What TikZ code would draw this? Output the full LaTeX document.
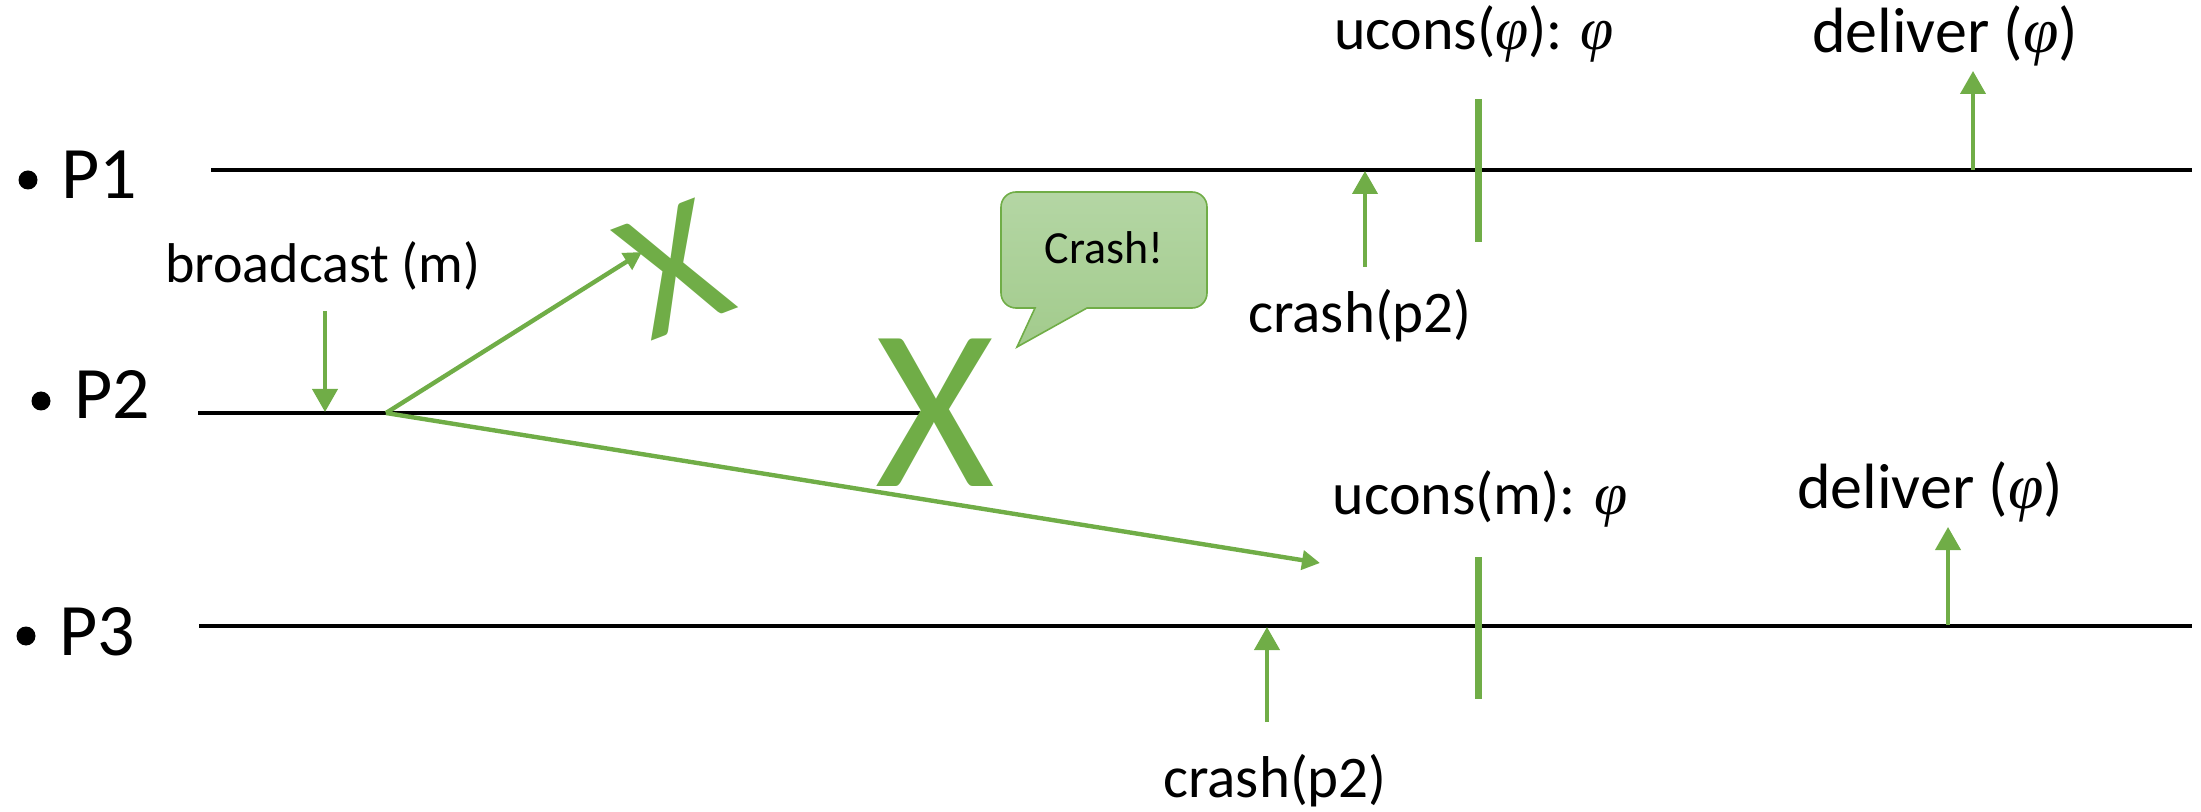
\documentclass[tikz,border=0pt]{standalone}
\usepackage{fontspec}
\setmainfont{Carlito}
\newfontfamily\phifam{Liberation Serif}
\newcommand\phii{{\phifam\itshape φ}}
\usetikzlibrary{arrows.meta}
\definecolor{ogreen}{HTML}{70AD47}
\definecolor{ctop}{HTML}{B4D6A4}
\definecolor{cbot}{HTML}{A2CB8C}
\tikzset{
  procline/.style={line width=2pt, black},
  evarrow/.style={line width=2pt, ogreen, -{Triangle[length=11.5pt,width=12.5pt]}},
  msgarrow/.style={line width=2.2pt, ogreen, -{Triangle[length=9pt,width=9.5pt]}},
  tick/.style={line width=3.5pt, ogreen},
  lbl/.style={inner sep=0pt, anchor=base, font=\fontsize{30}{36}\selectfont},
  plbl/.style={inner sep=0pt, anchor=base west, font=\fontsize{37}{44}\selectfont},
  bul/.style={circle, fill=black, inner sep=0pt, minimum size=9.5pt},
  bigx/.style={inner sep=0pt, text=ogreen, font=\fontsize{115}{130}\selectfont},
  callout/.style={draw=ogreen, line width=0.8pt, top color=ctop, bottom color=cbot},
}
\begin{document}
\begin{tikzpicture}[x=0.5pt, y=-0.5pt]
\useasboundingbox (0,0) rectangle (2201,812);

% process labels
\node[bul] (b1) at (28,180) {};
\node[plbl] (p1) at (61,199) {P1};
\node[bul] (b2) at (41,401) {};
\node[plbl] (p2) at (74,419) {P2};
\node[bul] (b3) at (26,636) {};
\node[plbl] (p3) at (59,655) {P3};

% process lines
\coordinate (l1s) at (211,170); \coordinate (l1e) at (2192,170);
\coordinate (l2s) at (198,413); \coordinate (l2e) at (920,413);
\coordinate (l3s) at (199,626); \coordinate (l3e) at (2192,626);
\draw[procline] (l1s) -- (l1e);
\draw[procline] (l2s) -- (l2e);
\draw[procline] (l3s) -- (l3e);

% broadcast
\node[lbl, font=\fontsize{28}{34}\selectfont] (bc) at (323,283) {broadcast (m)};
\coordinate (bcs) at (325,311); \coordinate (bce) at (325,412);
\draw[evarrow] (bcs) -- (bce);

% messages
\coordinate (src) at (386,413);
\coordinate (m1) at (642,252);
\coordinate (m2) at (1320,563);
\draw[msgarrow] (src) -- (m1);
\draw[msgarrow] (src) -- (m2);

% crosses
\node[bigx, rotate=21, font=\fontsize{92}{100}\selectfont] (x1) at (674,269) {X};
\node[bigx, anchor=base] (x2) at (935,487) {X};

% callout
\draw[callout] (1035,308) -- (1017,347) -- (1087,308) {[rounded corners=7.5pt] -- (1207,308) -- (1207,192) -- (1001,192) -- (1001,308)} -- cycle;
\node[inner sep=0pt, font=\fontsize{23}{28}\selectfont] (cr) at (1104,248) {Crash!};

% P1 events
\coordinate (c1s) at (1365,267); \coordinate (c1e) at (1365,171);
\draw[evarrow] (c1s) -- (c1e);
\node[lbl, font=\fontsize{29.5}{35}\selectfont] (c1l) at (1360,333) {crash(p2)};
\coordinate (t1a) at (1478,99); \coordinate (t1b) at (1478,242);
\draw[tick] (t1a) -- (t1b);
\node[lbl] (u1) at (1474,50) {ucons(\phii): \phii};
\coordinate (d1s) at (1973,170); \coordinate (d1e) at (1973,71);
\draw[evarrow] (d1s) -- (d1e);
\node[lbl, font=\fontsize{32}{38}\selectfont] (dl1) at (1945,53) {deliver (\phii)};

% P3 events
\coordinate (c3s) at (1267,722); \coordinate (c3e) at (1267,627);
\draw[evarrow] (c3s) -- (c3e);
\node[lbl, font=\fontsize{29.5}{35}\selectfont] (c3l) at (1275,797) {crash(p2)};
\coordinate (t3a) at (1478,557); \coordinate (t3b) at (1478,699);
\draw[tick] (t3a) -- (t3b);
\node[lbl] (u3) at (1480,515) {ucons(m): \phii};
\coordinate (d3s) at (1948,625); \coordinate (d3e) at (1948,527);
\draw[evarrow] (d3s) -- (d3e);
\node[lbl, font=\fontsize{32}{38}\selectfont] (dl3) at (1930,509) {deliver (\phii)};
\end{tikzpicture}
\end{document}
